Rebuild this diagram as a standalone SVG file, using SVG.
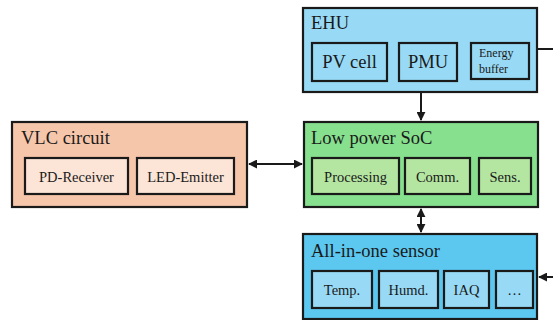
<svg xmlns="http://www.w3.org/2000/svg" width="553" height="320" viewBox="0 0 553 320" font-family="'Liberation Serif', 'Times New Roman', 'DejaVu Serif', serif">
<style>
.box{stroke:#1a1a1a;stroke-width:2.2}
text{font-family:'Liberation Serif','Times New Roman','DejaVu Serif',serif;fill:#1a1a1a}
.title{font-size:18.5px}
.lbl{font-size:14.5px;text-anchor:middle}
.big{font-size:18.5px;text-anchor:middle}
.sm{font-size:12px}
.conn{stroke:#1a1a1a;stroke-width:2;fill:none}
</style>
<defs>
<marker id="ah" viewBox="0 0 10 10" refX="9" refY="5" markerWidth="4.5" markerHeight="4.5" orient="auto-start-reverse">
<path d="M0,0 L10,5 L0,10 z" fill="#1a1a1a"/>
</marker>
</defs>
<g id="ehu">
<rect class="box" x="303" y="8" width="234" height="84" fill="#98daf6"/>
<text class="title" x="311" y="29">EHU</text>
<rect class="box" x="312" y="43" width="75" height="38" fill="#98daf6"/>
<text class="big" x="349.5" y="68">PV cell</text>
<rect class="box" x="399" y="43" width="58" height="38" fill="#98daf6"/>
<text class="big" x="428" y="68">PMU</text>
<rect class="box" x="471" y="43" width="58" height="36" fill="#98daf6"/>
<text class="sm" x="479" y="57">Energy</text>
<text class="sm" x="479" y="73">buffer</text>
</g>
<g id="vlc">
<rect class="box" x="12" y="122" width="235" height="85" fill="#f6c6aa"/>
<text class="title" x="21" y="144">VLC circuit</text>
<rect class="box" x="25" y="158" width="103" height="36" fill="#fce4d6"/>
<text class="lbl" x="76.5" y="182">PD-Receiver</text>
<rect class="box" x="137" y="158" width="97" height="36" fill="#fce4d6"/>
<text class="lbl" x="185.5" y="182">LED-Emitter</text>
</g>
<g id="soc">
<rect class="box" x="304" y="122" width="234" height="85" fill="#86e08e"/>
<text class="title" x="311" y="144">Low power SoC</text>
<rect class="box" x="312" y="158" width="87" height="36" fill="#b4e6a2"/>
<text class="lbl" x="355.5" y="182">Processing</text>
<rect class="box" x="405" y="158" width="65" height="36" fill="#b4e6a2"/>
<text class="lbl" x="437.5" y="182">Comm.</text>
<rect class="box" x="479" y="158" width="52" height="36" fill="#b4e6a2"/>
<text class="lbl" x="505" y="182">Sens.</text>
</g>
<g id="sensor">
<rect class="box" x="303" y="234" width="234" height="85" fill="#5cc8f0"/>
<text class="title" x="311" y="257">All-in-one sensor</text>
<rect class="box" x="312" y="271" width="60" height="37" fill="#98daf6"/>
<text class="lbl" x="342" y="295">Temp.</text>
<rect class="box" x="379" y="271" width="59" height="37" fill="#98daf6"/>
<text class="lbl" x="408.5" y="295">Humd.</text>
<rect class="box" x="444" y="271" width="45" height="37" fill="#98daf6"/>
<text class="lbl" x="466.5" y="295">IAQ</text>
<rect class="box" x="496" y="271" width="37" height="37" fill="#98daf6"/>
<text class="lbl" x="514.5" y="295">…</text>
</g>
<g id="connectors">
<line class="conn" x1="421" y1="92" x2="421" y2="120" marker-end="url(#ah)"/>
<line class="conn" x1="249" y1="164" x2="302" y2="164" marker-start="url(#ah)" marker-end="url(#ah)"/>
<line class="conn" x1="421" y1="209" x2="421" y2="232" marker-start="url(#ah)" marker-end="url(#ah)"/>
<line class="conn" x1="537" y1="49" x2="553" y2="49"/>
<line class="conn" x1="553" y1="277" x2="539" y2="277" marker-end="url(#ah)"/>
</g>
</svg>
